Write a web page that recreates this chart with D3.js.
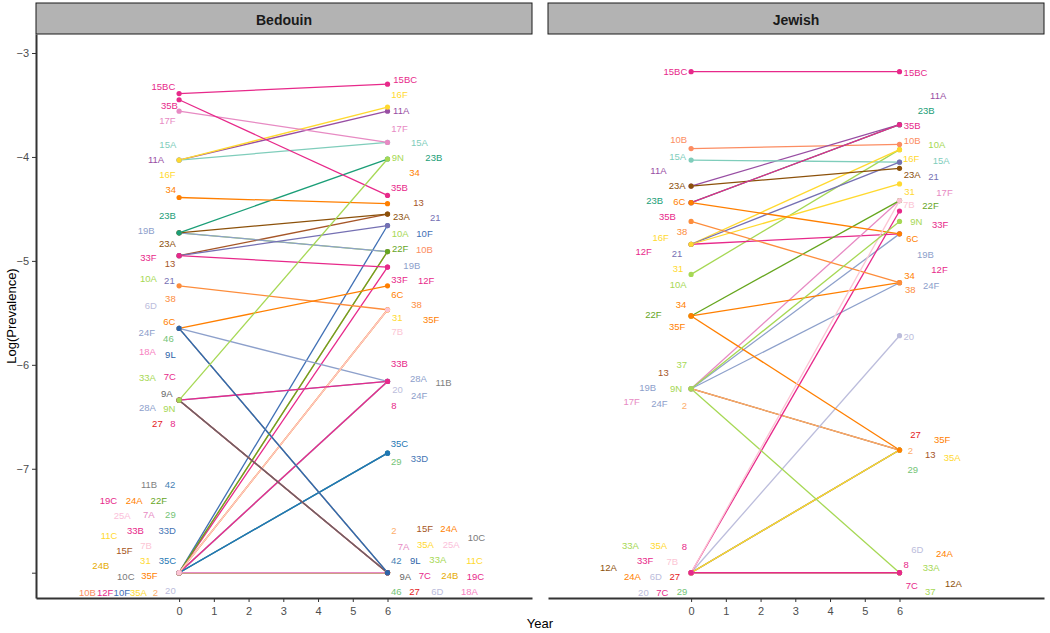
<!DOCTYPE html>
<html><head><meta charset="utf-8">
<script src="https://cdn.jsdelivr.net/npm/d3@7"></script>
<style>
body{margin:0;background:#fff}
svg{display:block}
text{font-family:"Liberation Sans",Arial,Helvetica,sans-serif}
</style>
</head><body>
<svg id="chart" width="1050" height="633"></svg>
<script>
// ---------------- data ----------------
const panels = ["Bedouin", "Jewish"];
const years = [0, 6];
const xTicks = [0, 1, 2, 3, 4, 5, 6];
const yTicks = [-3, -4, -5, -6, -7, -8];
const yTickLabels = ["−3", "−4", "−5", "−6", "−7", ""];

const bedouinSerotypes = ["15BC","35B","17F","16F","11A","15A","34","23B","19B","10A","23A","13","33F","21","38","6C","24F","9L","46","18A","6D","9N","8","28A","33A","7C","27","9A","22F","10B","10F","12F","35F","31","7B","33B","11B","20","35C","29","33D","2","15F","24A","10C","7A","35A","25A","42","11C","24B","19C"];
const bedouinYear0 = [-3.39,-3.45,-3.56,-4.03,-4.03,-4.03,-4.39,-4.73,-4.73,-4.73,-4.73,-4.95,-4.95,-4.95,-5.24,-5.65,-5.65,-5.65,-5.65,-5.65,-5.65,-6.34,-6.34,-6.34,-6.34,-6.34,-6.34,-6.34,-8,-8,-8,-8,-8,-8,-8,-8,-8,-8,-8,-8,-8,-8,-8,-8,-8,-8,-8,-8,-8,-8,-8,-8];
const bedouinYear6 = [-3.30,-4.37,-3.86,-3.52,-3.56,-3.86,-4.45,-4.02,-4.91,-4.91,-4.55,-4.55,-5.06,-4.66,-5.47,-5.24,-6.16,-8,-8,-8,-8,-4.02,-6.16,-6.16,-8,-8,-8,-8,-4.91,-4.91,-4.66,-5.06,-5.47,-5.47,-5.47,-6.16,-6.16,-6.16,-6.85,-6.85,-6.85,-8,-8,-8,-8,-8,-8,-8,-8,-8,-8,-8];

const jewishSerotypes = ["15BC","10B","15A","11A","23A","23B","35B","6C","38","16F","21","31","12F","10A","22F","34","35F","9N","17F","19B","24F","2","13","37","33F","7B","20","35A","27","29","33A","8","12A","24A","6D","7C"];
const jewishYear0 = [-3.18,-3.92,-4.03,-4.28,-4.28,-4.44,-4.44,-4.44,-4.62,-4.84,-4.84,-4.84,-4.84,-5.13,-5.53,-5.53,-5.53,-6.23,-6.23,-6.23,-6.23,-6.23,-6.23,-6.23,-8,-8,-8,-8,-8,-8,-8,-8,-8,-8,-8,-8];
const jewishYear6 = [-3.18,-3.88,-4.05,-3.69,-4.11,-3.69,-3.69,-4.74,-5.21,-3.93,-4.05,-4.26,-4.74,-3.93,-4.42,-5.21,-6.82,-4.62,-4.42,-4.74,-5.21,-6.82,-6.82,-8,-4.52,-4.42,-5.72,-6.82,-6.82,-6.82,-8,-8,-8,-8,-8,-8];

// ---------------- styles ----------------
const palette = {
  "10A":"#a6d854","10B":"#fc8d62","10C":"#7a7a7a","10F":"#3f6fb5","11A":"#984ea3","11B":"#7f7f7f","11C":"#ffd92f",
  "12A":"#8c510a","12F":"#e7298a","13":"#a65628","15A":"#7fcdbb","15BC":"#e7298a","15F":"#a6561d","16F":"#ffd92f",
  "17F":"#e78ac3","18A":"#f781bf","19B":"#8da0cb","19C":"#e7298a","2":"#fdae6b","20":"#bcbddc","21":"#7570b3",
  "22F":"#66a61e","23A":"#8c510a","23B":"#1b9e77","24A":"#ff7f00","24B":"#e6ab02","24F":"#8da0cb","25A":"#fbc0da",
  "27":"#e41a1c","28A":"#8da0cb","29":"#74c476","31":"#ffd92f","33A":"#a6d854","33B":"#e7298a","33D":"#4575b4",
  "33F":"#e7298a","34":"#ff7f00","35A":"#ffd92f","35B":"#e7298a","35C":"#1f78b4","35F":"#ff7f00","37":"#a6d854",
  "38":"#fd8d3c","42":"#4682b4","46":"#74c476","6C":"#ff7f00","6D":"#bcbddc","7A":"#e78ac3","7B":"#fcc5d4",
  "7C":"#e7298a","8":"#e7298a","9A":"#666666","9L":"#2c63a8","9N":"#a6d854"
};

// repelled label placement: pixel offsets from the point [year0 offset, year6 offset]
const labelOffsets = {
  Bedouin: {
    "15BC":[[-15.7,-7],[17.7,-5]], "35B":[[-9.7,6],[12,-7.6]], "17F":[[-11.7,9],[12,-14]],
    "15A":[[-11.3,-15.7],[32,0]], "11A":[[-23,-0.7],[13.7,-0.7]], "16F":[[-11.7,14.3],[12,-13]],
    "34":[[-8.3,-7.7],[27,-31]], "23B":[[-11.7,-17.7],[46.3,-1.6]], "19B":[[-33,-2.7],[24.3,13.7]],
    "23A":[[-11.7,11],[14,2.4]], "10A":[[-30.7,45.6],[12.7,-17.7]], "33F":[[-30.7,2.1],[12,12.7]],
    "13":[[-9,8.3],[31,-12]], "21":[[-9.7,24.6],[47.7,-8.3]], "38":[[-8.7,12.6],[29,-5]],
    "6D":[[-28.3,-23],[49.7,19]], "6C":[[-9.7,-7.3],[9.7,9]], "24F":[[-32.3,3.7],[31.7,14]],
    "46":[[-10.7,10.3],[8.7,19]], "18A":[[-31.7,23],[82,19]], "9L":[[-8.7,26.3],[27.7,-12.7]],
    "33A":[[-31.7,-22.3],[50.3,-13.4]], "7C":[[-9.3,-24],[37.3,2.6]], "9A":[[-12.3,-6.7],[17.7,3.3]],
    "28A":[[-31.7,7.3],[31,-3.4]], "9N":[[-9.7,8.3],[10.3,-1.6]], "27":[[-21.7,23.3],[27,19]],
    "8":[[-6.3,23.3],[6.3,24.3]], "11B":[[-30,-88.4],[56,1]], "42":[[-9,-88.4],[8.7,-12.7]],
    "19C":[[-70.7,-72],[88,3.3]], "24A":[[-45,-72.7],[61.3,-44.4]], "22F":[[-20.3,-72.7],[12.7,-2.7]],
    "25A":[[-57,-57.4],[63.7,-28]], "7A":[[-30.3,-58.4],[16,-26.7]], "29":[[-8.7,-58.4],[8.7,8.4]],
    "11C":[[-70,-37.7],[87,-12.7]], "33B":[[-43.7,-42],[12,-18.4]], "33D":[[-12,-42],[32,5]],
    "7B":[[-33,-27],[9.7,21.7]], "15F":[[-54.7,-22],[37.3,-44.4]], "31":[[-33.7,-12.7],[9.7,8]],
    "35C":[[-11.7,-12.7],[12,-10]], "24B":[[-78.3,-7.4],[62.3,3]], "10C":[[-53.3,3.3],[89,-35.4]],
    "35F":[[-29.7,2.6],[43.7,10]], "10B":[[-91.7,19.3],[37,-1.7]], "12F":[[-74,19.3],[38.7,13.4]],
    "10F":[[-57.3,19.3],[37,7.7]], "35A":[[-40.7,19.3],[38,-28.7]], "2":[[-23.7,19.3],[6.3,-42.7]],
    "20":[[-8.7,17.3],[10,8.3]]
  },
  Jewish: {
    "15BC":[[-15.7,0],[16,0.4]], "10B":[[-12.4,-9.4],[12.7,-4.3]], "15A":[[-13.4,-4],[41.7,-2]],
    "11A":[[-32.7,-16],[38.7,-29.7]], "23A":[[-14,-0.7],[12.7,6.3]], "23B":[[-36.4,-1.7],[26.7,-14]],
    "6C":[[-11.7,-1],[12.7,4.6]], "35B":[[-23.7,14],[12.7,1]], "38":[[-9,10.3],[10.7,6.6]],
    "16F":[[-30.4,-6.6],[11.7,8.6]], "12F":[[-47.4,7.7],[40,35.3]], "21":[[-14,9],[34,14.7]],
    "31":[[-13,24],[10,8]], "10A":[[-13,10],[37.3,-4.7]], "34":[[-10,-11.4],[10,-7.7]],
    "22F":[[-37.7,-1.7],[31,5]], "35F":[[-14,11],[42.7,-11]], "37":[[-9.4,-24],[30.7,19]],
    "13":[[-27.7,-16.3],[30.7,4]], "19B":[[-43.4,-1],[26,20.3]], "9N":[[-15,0],[16.7,-0.3]],
    "17F":[[-59.4,12.7],[45,-8.3]], "24F":[[-31.7,15],[31.7,2.3]], "2":[[-6.7,16.7],[11,0]],
    "33A":[[-60.7,-27.7],[31.7,-5]], "35A":[[-32.4,-27.7],[52.7,7.3]], "8":[[-6.7,-26],[6.7,-8.4]],
    "33F":[[-46,-12.7],[40.7,14]], "7B":[[-18.7,-11.7],[9.3,4]], "12A":[[-82.7,-5.4],[54,10.6]],
    "24A":[[-58.7,4],[45,-19.4]], "6D":[[-35.4,4],[17.7,-23.4]], "27":[[-16.4,3.3],[16,-15.7]],
    "20":[[-47.7,19.6],[9.3,0.3]], "7C":[[-28.7,19.6],[12.3,12.3]], "29":[[-9,19],[13.3,19.3]]
  }
};

// ---------------- layout ----------------
const svg = d3.select("#chart");
const stripTop = 3, panelTop = 34, panelBottom = 598;
const panelX = { Bedouin: [36, 532], Jewish: [548, 1044] };
const xDomain = [-4.12, 10.16];

const y = d3.scaleLinear().domain([-3, -8]).range([53, 572.7]);
const yFull = d3.scaleLinear().domain([y.invert(panelTop), y.invert(panelBottom)]).range([panelTop, panelBottom]);

const panelData = {
  Bedouin: bedouinSerotypes.map((s, i) => ({ s, v: [bedouinYear0[i], bedouinYear6[i]] })),
  Jewish: jewishSerotypes.map((s, i) => ({ s, v: [jewishYear0[i], jewishYear6[i]] }))
};

panels.forEach(name => {
  const [x0, x1] = panelX[name];
  const x = d3.scaleLinear().domain(xDomain).range([x0, x1]);
  const g = svg.append("g");
  const rows = panelData[name].slice().sort((a, b) => d3.ascending(a.s, b.s));

  // strip
  g.append("rect").attr("x", x0).attr("y", stripTop).attr("width", x1 - x0).attr("height", panelTop - stripTop)
    .attr("fill", "#b3b3b3").attr("stroke", "#1a1a1a").attr("stroke-width", 1);
  g.append("text").attr("x", (x0 + x1) / 2).attr("y", (stripTop + panelTop) / 2 + 1)
    .attr("text-anchor", "middle").attr("dominant-baseline", "central")
    .attr("font-size", 14).attr("font-weight", "bold").attr("fill", "#1a1a1a").text(name);

  // lines
  const line = d3.line().x(d => x(d[0])).y(d => y(d[1]));
  g.append("g").selectAll("path").data(rows).join("path")
    .attr("d", d => line(years.map((yr, k) => [yr, d.v[k]])))
    .attr("fill", "none").attr("stroke", d => palette[d.s]).attr("stroke-width", 1.3);

  // points
  const pts = rows.flatMap(d => years.map((yr, k) => ({ s: d.s, yr, v: d.v[k] })));
  g.append("g").selectAll("circle").data(pts).join("circle")
    .attr("cx", d => x(d.yr)).attr("cy", d => y(d.v)).attr("r", 2.6)
    .attr("fill", d => palette[d.s]);

  // labels
  const labs = rows.flatMap(d => years.map((yr, k) => ({ s: d.s, yr, v: d.v[k], off: labelOffsets[name][d.s][k] })));
  g.append("g").selectAll("text").data(labs).join("text")
    .attr("x", d => x(d.yr) + d.off[0]).attr("y", d => y(d.v) + d.off[1])
    .attr("text-anchor", "middle").attr("dominant-baseline", "central")
    .attr("font-size", 9.5).attr("fill", d => palette[d.s]).text(d => d.s);

  // x axis
  const xa = g.append("g").attr("transform", `translate(0,${panelBottom})`)
    .call(d3.axisBottom(x).tickValues(xTicks).tickSize(4).tickSizeOuter(0).tickFormat(d3.format("d")));
  xa.select(".domain").attr("stroke", "#333").attr("stroke-width", 2);
  xa.selectAll(".tick line").attr("stroke", "#333").attr("stroke-width", 1);
  xa.selectAll(".tick text").attr("fill", "#4d4d4d").attr("font-size", 11).attr("dy", "0.9em")
    .style("font-family", "'Liberation Sans',Arial,sans-serif");

  if (name === "Bedouin") {
    const ya = g.append("g").attr("transform", `translate(${x0},0)`)
      .call(d3.axisLeft(yFull).tickValues(yTicks).tickSize(4).tickSizeOuter(0)
        .tickFormat((d, i) => yTickLabels[i]));
    ya.select(".domain").attr("stroke", "#333").attr("stroke-width", 2);
    ya.selectAll(".tick line").attr("stroke", "#333").attr("stroke-width", 1);
    ya.selectAll(".tick text").attr("fill", "#4d4d4d").attr("font-size", 11)
      .style("font-family", "'Liberation Sans',Arial,sans-serif");
  }
});

// axis titles
svg.append("text").attr("x", 540).attr("y", 623).attr("text-anchor", "middle").attr("dominant-baseline", "central")
  .attr("font-size", 13).attr("fill", "#000").text("Year");
svg.append("text").attr("transform", `translate(11,${(panelTop + panelBottom) / 2}) rotate(-90)`)
  .attr("text-anchor", "middle").attr("dominant-baseline", "central")
  .attr("font-size", 13).attr("fill", "#000").text("Log(Prevalence)");
</script>
</body></html>
